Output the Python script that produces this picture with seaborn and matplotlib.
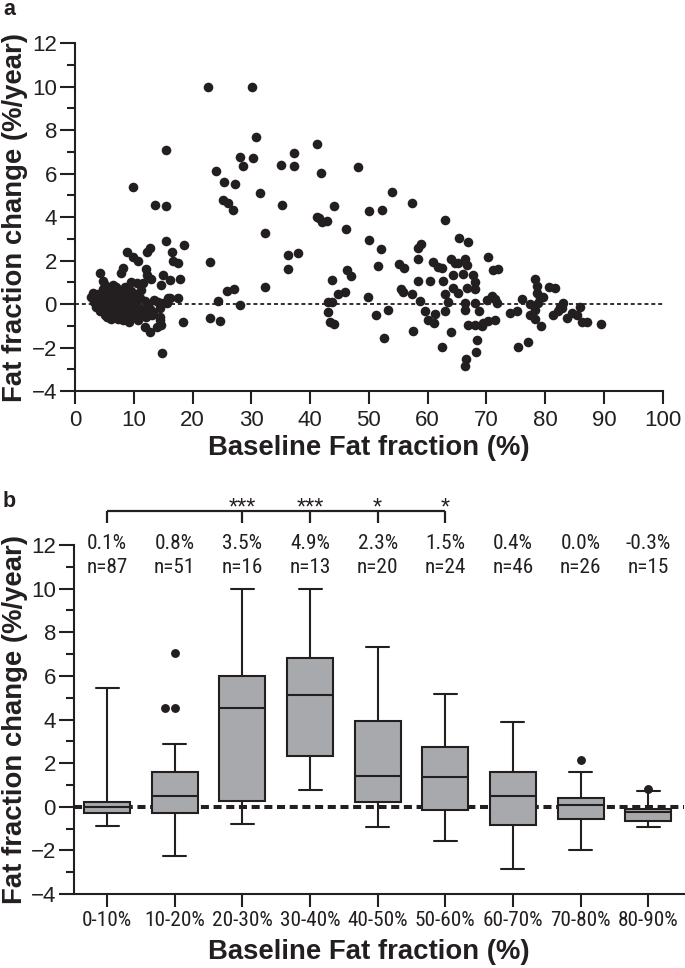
import matplotlib
matplotlib.use("Agg")
import matplotlib.pyplot as plt
from matplotlib.ticker import MultipleLocator
import numpy as np
import pandas as pd
import seaborn as sns

# ---------------- data: panel a (scatter) ----------------
baseline_ff = [
    # 0-10 %
    2.8, 3.1, 3.7, 4.0, 4.25, 4.8, 5.1, 6.4, 7.0, 7.9, 8.2, 8.8, 9.9, 9.8, 9.6, 5.7, 5.4, 8.2, 9.2,
    3.3, 3.5, 4.2, 4.4, 4.6, 4.9, 5.0, 5.2, 5.3, 5.5, 5.6, 5.8, 5.9, 6.0, 6.1, 6.2, 6.3, 6.5, 6.6,
    6.7, 6.8, 6.9, 7.1, 7.2, 7.3, 7.4, 7.5, 7.6, 7.7, 7.8, 8.0, 8.1, 8.3, 8.4, 8.5, 8.6, 8.7, 8.9,
    9.0, 9.1, 9.3, 9.4, 9.5, 9.6, 9.7, 9.8, 9.9, 4.7, 5.8, 6.9, 7.3, 8.8, 3.9, 6.4, 7.0, 8.0, 9.2,
    5.1, 6.1, 7.9, 9.6, 8.5, 3.6, 4.3, 5.6, 6.7, 7.6, 9.4,
    # 10-20 %
    10.8, 10.5, 11.5, 11.3, 12.8, 12.2, 12.1, 12.3, 13.0, 13.6, 15.4, 15.4, 15.5, 18.6, 16.5, 16.7,
    17.6, 14.9, 14.7, 16.2, 17.8, 16.1, 17.6, 15.0, 14.2, 14.4, 12.8, 14.5, 14.5, 11.9, 12.8, 13.9,
    18.3, 14.8, 10.7, 11.7, 13.3, 14.7, 10.4, 10.9, 11.1, 10.2, 11.9, 12.4, 13.4, 10.6, 11.4, 12.0,
    13.1, 15.6, 15.9,
    # 20-30 %
    22.7, 24.0, 25.4, 27.2, 25.1, 26.1, 26.8, 28.1, 28.6, 22.9, 25.8, 27.1, 28.1, 24.3, 22.9, 24.6,
    # 30-40 %
    30.1, 30.8, 30.3, 31.5, 32.4, 36.3, 37.9, 36.3, 35.1, 37.2, 37.2, 35.2, 32.4,
    # 40-50 %
    41.1, 41.8, 41.2, 42.0, 42.8, 44.1, 46.1, 48.2, 43.7, 46.2, 47.0, 44.8, 45.9, 43.1, 43.8, 43.1,
    43.4, 44.1, 49.8, 41.5,
    # 50-60 %
    53.9, 50.1, 52.2, 57.3, 50.1, 52.0, 58.4, 58.8, 58.4, 51.5, 55.2, 55.9, 58.4, 55.4, 55.8, 57.4,
    58.7, 51.3, 53.2, 59.5, 57.5, 52.6,
    # 60-70 %
    63.0, 65.4, 66.9, 61.0, 61.7, 62.4, 64.0, 64.7, 65.2, 66.4, 66.7, 64.4, 66.1, 67.8, 60.4, 62.7,
    68.1, 66.7, 68.1, 64.4, 65.2, 63.0, 63.5, 66.4, 68.1, 61.3, 60.1, 61.1, 63.0, 66.4, 68.8, 66.8,
    68.1, 69.2, 69.5, 63.9, 68.4, 62.4, 68.2, 66.5, 66.4,
    # 70-80 %
    70.3, 71.2, 72.0, 78.2, 78.6, 70.1, 70.9, 71.5, 71.8, 76.0, 78.6, 79.1, 79.7, 77.4, 78.8, 78.3,
    70.3, 71.4, 74.0, 75.2, 77.4, 78.3, 79.3, 75.4, 77.1,
    # 80-90 %
    80.6, 81.7, 83.1, 82.5, 82.1, 85.9, 85.5, 81.3, 83.8, 86.2, 87.2, 89.5, 82.8, 84.5,
]
ff_change = [
    # 0-10 %
    0.34, 0.49, 0.18, -0.05, 1.44, 1.06, 0.88, 0.88, 0.57, 1.44, 1.64, 2.38, 2.18, 5.41, 1.03, -0.58, -0.58, -0.74, -0.81,
    0.10, -0.15, 0.30, 0.05, -0.25, 0.45, -0.10, 0.20, -0.35, 0.60, 0.05, -0.20, 0.35, -0.45, 0.10, -0.05, 0.45, -0.30, 0.20,
    -0.60, 0.00, -0.15, 0.30, -0.40, 0.10, -0.25, 0.50, -0.05, -0.55, 0.20, -0.30, 0.05, -0.10, 0.35, -0.45, 0.00, -0.20, 0.15,
    -0.60, -0.30, 0.05, -0.15, 0.30, -0.45, -0.05, 0.15, -0.25, 0.70, 0.75, 0.80, -0.70, -0.75, 0.45, -0.10, -0.30, 0.55, 0.45,
    -0.50, -0.70, -0.15, 0.60, 0.80, 0.30, -0.30, -0.25, 0.55, 0.10, -0.70,
    # 10-20 %
    2.00, 0.95, 0.95, 0.65, 2.56, 2.41, 1.60, 1.34, 1.14, 4.55, 4.52, 7.07, 2.90, 2.72, 2.41, 1.98,
    1.87, 1.34, 0.88, 1.10, 1.14, 0.26, 0.26, 0.03, 0.11, -0.20, -0.24, -0.58, -0.74, -1.05, -1.28, -1.05,
    -0.82, -2.27, -0.74, -0.28, -0.35, -0.97, 0.10, -0.20, 0.30, -0.50, 0.15, -0.10, 0.20, 0.45, -0.55, -0.60,
    -0.50, 0.03, 0.26,
    # 20-30 %
    9.97, 6.14, 5.64, 5.51, 4.79, 4.67, 4.33, 6.76, 6.37, 1.95, 0.61, 0.71, -0.06, 0.14, -0.66, -0.77,
    # 30-40 %
    9.98, 7.71, 6.71, 5.10, 3.26, 2.26, 2.37, 1.60, 6.41, 6.94, 6.36, 4.56, 0.77,
    # 40-50 %
    7.36, 6.05, 3.99, 3.79, 3.84, 4.53, 3.47, 6.33, 1.11, 1.57, 1.29, 0.45, 0.54, 0.11, 0.11, -0.35,
    -0.81, -0.92, 0.34, 3.95,
    # 50-60 %
    5.15, 4.27, 4.35, 4.67, 2.95, 2.52, 2.60, 2.75, 2.09, 1.75, 1.83, 1.67, 1.08, 0.71, 0.57, 0.46,
    0.14, -0.52, -0.25, -0.31, -1.23, -1.58,
    # 60-70 %
    3.87, 3.03, 2.84, 1.95, 1.72, 1.64, 2.06, 1.87, 1.87, 2.06, 1.80, 1.34, 1.38, 1.34, 1.06, 1.08,
    1.03, 0.72, 0.71, 0.72, 0.49, 0.46, 0.11, 0.06, 0.03, -0.46, -0.74, -0.89, -0.32, -0.28, -0.32, -0.97,
    -0.97, -1.01, -0.86, -1.27, -1.66, -1.97, -2.20, -2.55, -2.84,
    # 70-80 %
    2.15, 1.57, 1.60, 1.14, 0.83, 0.18, 0.38, 0.23, 0.06, 0.22, 0.49, 0.29, 0.34, 0.00, 0.03, -0.28,
    -0.78, -0.71, -0.40, -0.32, -0.51, -0.69, -1.00, -1.97, -1.74,
    # 80-90 %
    0.80, 0.75, 0.06, -0.12, -0.32, -0.12, -0.51, -0.48, -0.66, -0.81, -0.81, -0.92, -0.20, -0.40,
]

# ---------------- data: panel b (box plots) ----------------
categories = ["0-10%", "10-20%", "20-30%", "30-40%", "40-50%", "50-60%", "60-70%", "70-80%", "80-90%"]
whisker_low = [-0.86, -2.27, -0.77, 0.77, -0.92, -1.58, -2.84, -1.97, -0.92]
quart_1 = [-0.28, -0.29, 0.28, 2.32, 0.20, -0.14, -0.83, -0.57, -0.66]
medians = [-0.03, 0.49, 4.52, 5.12, 1.43, 1.38, 0.48, 0.06, -0.25]
quart_3 = [0.20, 1.58, 6.00, 6.84, 3.95, 2.72, 1.61, 0.40, -0.12]
whisker_high = [5.44, 2.89, 9.97, 9.97, 7.34, 5.15, 3.87, 1.58, 0.74]
outlier_cat = ["10-20%", "10-20%", "10-20%", "70-80%", "80-90%"]
outlier_val = [7.07, 4.55, 4.55, 2.15, 0.81]
mean_labels = ["0.1%", "0.8%", "3.5%", "4.9%", "2.3%", "1.5%", "0.4%", "0.0%", "-0.3%"]
n_labels = ["n=87", "n=51", "n=16", "n=13", "n=20", "n=24", "n=46", "n=26", "n=15"]
sig_cats = ["0-10%", "20-30%", "30-40%", "40-50%", "50-60%"]
sig_marks = ["", "***", "***", "*", "*"]

# ---------------- style ----------------
sns.set_theme(style="ticks")
INK = "#231f20"
plt.rcParams["font.family"] = ["Liberation Sans", "DejaVu Sans"]
plt.rcParams.update({
    "axes.edgecolor": INK, "axes.linewidth": 1.5, "xtick.color": INK, "ytick.color": INK,
    "text.color": INK, "axes.labelcolor": INK,
})
NARROW = ["Roboto Condensed", "Liberation Sans", "DejaVu Sans"]
nsize = 15.3

fig = plt.figure(figsize=(6.85, 9.68), dpi=100)
W, H = 685.0, 968.0

def add_ax(left, right, top, bottom):
    return fig.add_axes([left / W, 1 - bottom / H, (right - left) / W, (bottom - top) / H])

ax1 = add_ax(75, 662.7, 43.3, 391)
ax2 = add_ax(74, 684, 545, 894)

# ---------------- panel a ----------------
df_a = pd.DataFrame({"baseline": baseline_ff, "change": ff_change})
ax1.axhline(0, color=INK, lw=1.3, dashes=(2.2, 1.6), zorder=1)
sns.scatterplot(data=df_a, x="baseline", y="change", ax=ax1, s=48, color=INK,
                linewidth=0, zorder=3, legend=False)
ax1.set_xlim(0, 100)
ax1.set_ylim(-4, 12)
ax1.xaxis.set_major_locator(MultipleLocator(10))
ax1.yaxis.set_major_locator(MultipleLocator(2))
ax1.yaxis.set_minor_locator(MultipleLocator(1))

# ---------------- panel b ----------------
rows = []
for c, lo, q1, md, q3, hi in zip(categories, whisker_low, quart_1, medians, quart_3, whisker_high):
    for v in (lo, q1, md, q3, hi):
        rows.append({"group": c, "value": v})
df_b = pd.DataFrame(rows)
df_out = pd.DataFrame({"group": outlier_cat, "value": outlier_val})

ax2.axhline(0, color=INK, lw=2.9, dashes=(2.0, 1.15), zorder=0.5)
sns.boxplot(data=df_b, x="group", y="value", order=categories, ax=ax2, whis=(0, 100),
            width=0.68, color="#a7a9ac", saturation=1, linecolor=INK, linewidth=1.5,
            showfliers=False)
sns.swarmplot(data=df_out, x="group", y="value", order=categories, ax=ax2, color=INK,
              size=6.4, linewidth=0, zorder=4)
ax2.set_xlim(-0.49, 8.53)
ax2.set_ylim(-4, 12)
ax2.yaxis.set_major_locator(MultipleLocator(2))
ax2.yaxis.set_minor_locator(MultipleLocator(1))

# annotations above boxes
for i, (m, n) in enumerate(zip(mean_labels, n_labels)):
    ax2.text(i, 11.81, m, ha="center", va="baseline", family=NARROW, fontsize=nsize, clip_on=False)
    ax2.text(i, 10.70, n, ha="center", va="baseline", family=NARROW, fontsize=nsize, clip_on=False)

pos = {c: i for i, c in enumerate(categories)}
xs = [pos[c] for c in sig_cats]
ax2.plot([min(xs), max(xs)], [13.55, 13.55], color=INK, lw=1.6, clip_on=False, solid_capstyle="butt")
for xv, mk in zip(xs, sig_marks):
    ax2.plot([xv, xv], [13.55, 13.02], color=INK, lw=1.6, clip_on=False, solid_capstyle="butt")
    if mk:
        ax2.text(xv, 13.40, mk, ha="center", va="baseline", fontsize=17, clip_on=False)

# ---------------- shared axis styling ----------------
for ax, ly in ((ax1, -0.080), (ax2, -0.076)):
    sns.despine(ax=ax)
    ax.tick_params(axis="y", which="major", length=11, width=1.5, pad=2, labelsize=16)
    ax.tick_params(axis="y", which="minor", length=6, width=1.5)
    ax.tick_params(axis="x", which="major", length=9, width=1.5, pad=5 if ax is ax1 else 3.5,
                   labelsize=16 if ax is ax1 else nsize)
    ax.set_xlabel("Baseline Fat fraction (%)", fontsize=19.8, fontweight="bold")
    ax.set_ylabel("Fat fraction change (%/year)", fontsize=19.8, fontweight="bold")
    ax.yaxis.set_label_coords(ly, 0.5)
    ax.grid(False)
for t in ax2.get_xticklabels():
    t.set_fontfamily(NARROW)
    t.set_fontsize(nsize)
ax1.xaxis.set_label_coords(0.5003, -0.1265)
ax2.xaxis.set_label_coords(0.4836, -0.128)

fig.text(3 / W, 1 - 15 / H, "a", fontsize=15.5, fontweight="bold", va="baseline", ha="left")
fig.text(3 / W, 1 - 507 / H, "b", fontsize=15.5, fontweight="bold", va="baseline", ha="left")

fig.savefig("out.png", dpi=100)
